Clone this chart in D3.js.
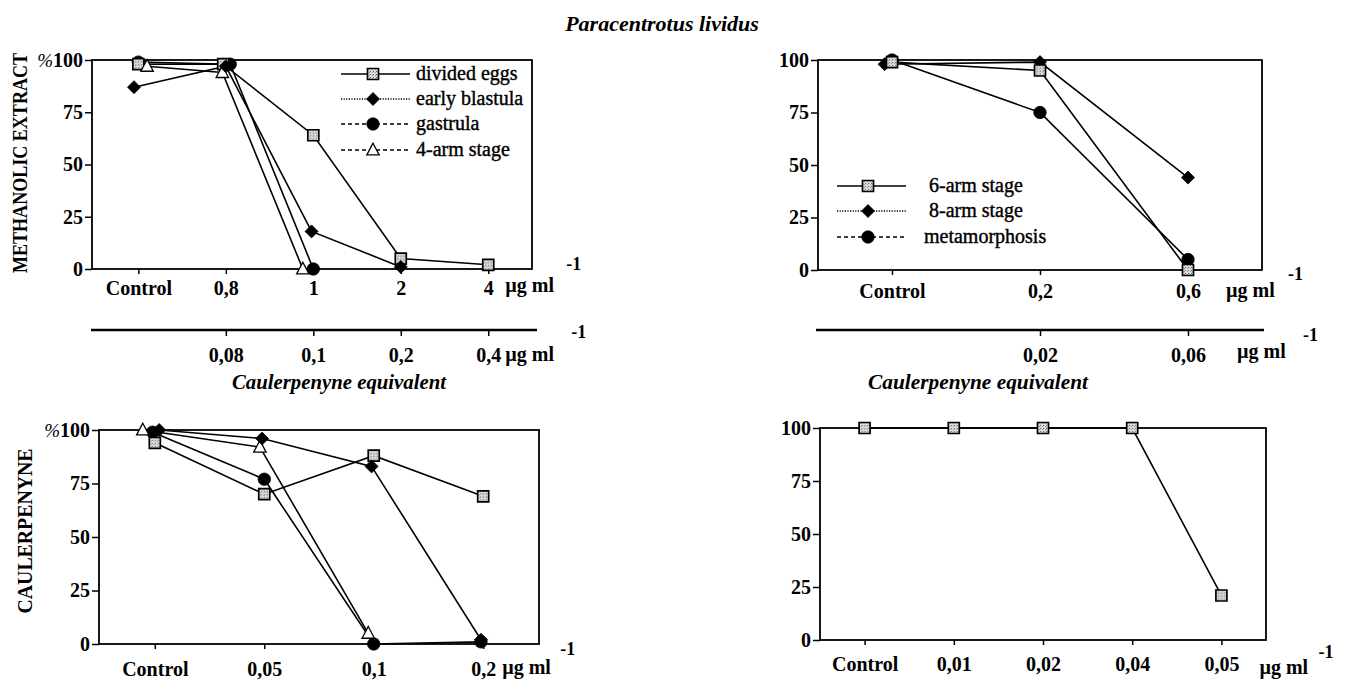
<!DOCTYPE html>
<html>
<head>
<meta charset="utf-8">
<script src="https://cdn.jsdelivr.net/npm/d3@7"></script>
<style>
  body { margin: 0; background: #fff; }
  svg text { font-family: "Liberation Serif", "DejaVu Serif", serif; fill: #000; }
</style>
</head>
<body>
<script>
var width = 1345,
    height = 680;

var serif = '"Liberation Serif", "DejaVu Serif", serif';

var yTickValues = [0, 25, 50, 75, 100];

// top left: methanolic extract, early stages
var aCategories = ['Control', '0,8', '1', '2', '4'];
var aEquivalent = ['0,08', '0,1', '0,2', '0,4'];   // under categories 1..4
var aNames = ['divided eggs', 'early blastula', 'gastrula', '4-arm stage'];
var aDividedEggs = [98, 98, 64, 5, 2];
var aEarlyBlastula = [87, 97, 18, 1];
var aGastrula = [99, 98, 0];
var aFourArm = [97, 94, 0];
// where the points sit along the category axis (the print is a bit shifted)
var aDividedEggsPos = [0, 0.97, 2, 3, 4];
var aEarlyBlastulaPos = [-0.05, 1, 1.98, 3];
var aGastrulaPos = [0, 1.05, 2];
var aFourArmPos = [0.1, 0.96, 1.88];

// top right: methanolic extract, late stages
var bCategories = ['Control', '0,2', '0,6'];
var bEquivalent = ['0,02', '0,06'];
var bNames = ['6-arm stage', '8-arm stage', 'metamorphosis'];
var bSixArm = [99, 95, 0];
var bEightArm = [98, 99, 44];
var bMetamorphosis = [100, 75, 5];
var bEightArmPos = [-0.05, 1, 2];

// bottom left: caulerpenyne, early stages
var cCategories = ['Control', '0,05', '0,1', '0,2'];
var cDividedEggs = [94, 70, 88, 69];
var cEarlyBlastula = [100, 96, 83, 2];
var cGastrula = [99, 77, 0, 1];
var cFourArm = [100, 92, 5];
var cEarlyBlastulaPos = [0.04, 0.98, 1.98, 2.98];
var cGastrulaPos = [-0.02, 1, 2, 2.98];
var cFourArmPos = [-0.11, 0.96, 1.95];

// bottom right: caulerpenyne, late stages
var dCategories = ['Control', '0,01', '0,02', '0,04', '0,05'];
var dSixArm = [100, 100, 100, 100, 21];

var svg = d3.select('body')
  .append('svg')
  .attr('width', width)
  .attr('height', height)
  .attr('font-family', serif);

// grey stippled fill of the square markers
var pat = svg.append('defs').append('pattern')
  .attr('id', 'stipple')
  .attr('width', 3).attr('height', 3)
  .attr('patternUnits', 'userSpaceOnUse');
pat.append('rect').attr('width', 3).attr('height', 3).attr('fill', '#dcdcdc');
pat.append('rect').attr('width', 1).attr('height', 1).attr('fill', '#666');
pat.append('rect').attr('x', 2).attr('y', 1).attr('width', 1).attr('height', 1).attr('fill', '#999');

var markerStyle = {
  square:   { s: 5.5, fill: 'url(#stipple)', sw: 1.7 },
  diamond:  { s: 6.5, fill: '#000', sw: 0.8 },
  circle:   { s: 6.2, fill: '#000', sw: 0.8 },
  triangle: { s: 6.2, fill: '#fff', sw: 1.3 }
};

function markerPath(type, s) {
  if (type === 'square') return 'M' + (-s) + ',' + (-s) + 'h' + 2 * s + 'v' + 2 * s + 'h' + (-2 * s) + 'Z';
  if (type === 'diamond') return 'M0,' + (-s) + 'L' + s + ',0L0,' + s + 'L' + (-s) + ',0Z';
  if (type === 'circle') return 'M' + s + ',0A' + s + ',' + s + ' 0 1,1 ' + (-s) + ',0A' + s + ',' + s + ' 0 1,1 ' + s + ',0Z';
  return 'M0,' + (-s * 1.1) + 'L' + s + ',' + (s * 0.8) + 'L' + (-s) + ',' + (s * 0.8) + 'Z';
}

function drawMarker(sel, type, cx, cy) {
  var st = markerStyle[type];
  sel.append('path')
    .attr('d', markerPath(type, st.s))
    .attr('transform', 'translate(' + cx + ',' + cy + ')')
    .attr('fill', st.fill)
    .attr('stroke', '#000')
    .attr('stroke-width', st.sw);
}

var dashes = { solid: null, dotted: '1.2,1.4', dashed: '4,3' };

function addText(sel, x, y, size, txt) {
  return sel.append('text')
    .attr('x', x).attr('y', y)
    .attr('font-family', serif)
    .attr('font-size', size)
    .attr('font-weight', 'bold')
    .text(txt);
}

function styleAxisText(axis) {
  axis.attr('font-family', serif).attr('font-size', null);
  axis.selectAll('text')
    .attr('font-family', serif)
    .attr('font-size', 20)
    .attr('font-weight', 'bold');
  axis.selectAll('line').attr('stroke-width', 1.5);
}

function drawPanel(p) {
  var x = d3.scaleLinear().domain(p.xDomain).range([p.left, p.right]);
  var y = d3.scaleLinear().domain([0, 100]).range([p.bottom, p.top]);
  var g = svg.append('g');

  // y axis
  var yAxis = g.append('g')
    .attr('transform', 'translate(' + p.left + ',0)')
    .call(d3.axisLeft(y).tickValues(yTickValues).tickSize(7).tickPadding(2));
  yAxis.select('.domain').remove();
  styleAxisText(yAxis);
  if (p.percent) {
    var t = yAxis.selectAll('.tick text').filter(function(d) { return d === 100; });
    t.text(null);
    t.append('tspan').attr('font-size', 19).attr('font-weight', 'normal').attr('font-style', 'italic').text('%');
    t.append('tspan').text('100');
  }

  // x axis, short ticks below the frame
  var xAxis = g.append('g')
    .attr('transform', 'translate(0,' + p.bottom + ')')
    .call(d3.axisBottom(x)
      .tickValues(d3.range(p.categories.length))
      .tickFormat(function(i) { return p.categories[i]; })
      .tickSize(5)
      .tickPadding(p.xPad));
  xAxis.select('.domain').remove();
  styleAxisText(xAxis);

  var last = x(p.categories.length - 1);
  addText(g, last + p.unit[0], p.unit[1], 20, '\u00b5g ml');
  addText(g, last + p.unit[2], p.unit[3], 18, '-1');

  // frame
  g.append('rect')
    .attr('x', p.left).attr('y', p.top)
    .attr('width', p.right - p.left).attr('height', p.bottom - p.top)
    .attr('fill', 'none')
    .attr('stroke', '#000')
    .attr('stroke-width', 1.8);

  // series lines
  var line = d3.line()
    .x(function(d) { return x(d.pos); })
    .y(function(d) { return y(d.v); });

  p.series.forEach(function(s) {
    var pts = s.values.map(function(v, i) {
      return { v: v, pos: s.pos ? s.pos[i] : i };
    });
    s.pts = pts;
    g.append('path')
      .datum(pts)
      .attr('d', line)
      .attr('fill', 'none')
      .attr('stroke', '#000')
      .attr('stroke-width', 1.6);
  });

  // markers on top, in the given order
  p.markerOrder.forEach(function(k) {
    var s = p.series[k];
    s.pts.forEach(function(d) {
      drawMarker(g, s.type, x(d.pos), y(d.v));
    });
  });

  // legend
  if (p.legend) {
    var L = p.legend;
    p.series.forEach(function(s, i) {
      var ry = L.rows[i];
      g.append('line')
        .attr('x1', L.x0).attr('x2', L.x1)
        .attr('y1', ry).attr('y2', ry)
        .attr('stroke', '#000')
        .attr('stroke-width', s.dash === 'solid' ? 1.6 : 1.4)
        .attr('stroke-dasharray', dashes[s.dash]);
      drawMarker(g, s.type, L.xm, ry);
      g.append('text')
        .attr('x', L.textX[i]).attr('y', ry + 6)
        .attr('font-family', serif)
        .attr('font-size', 20)
        .attr('stroke', '#000').attr('stroke-width', 0.4)
        .text(s.name);
    });
  }

  // second scale: caulerpenyne equivalent
  if (p.equiv) {
    var E = p.equiv;
    g.append('line')
      .attr('x1', E.x0).attr('x2', E.x1)
      .attr('y1', E.y).attr('y2', E.y)
      .attr('stroke', '#000')
      .attr('stroke-width', 2.6);
    var eAxis = g.append('g')
      .attr('transform', 'translate(0,' + E.y + ')')
      .call(d3.axisBottom(x)
        .tickValues(d3.range(1, p.categories.length))
        .tickFormat(function(i) { return E.labels[i - 1]; })
        .tickSize(6)
        .tickPadding(12));
    eAxis.select('.domain').remove();
    styleAxisText(eAxis);
    addText(g, last + E.unit[0], E.unit[1], 20, '\u00b5g ml');
    addText(g, last + E.unit[2], E.unit[3], 18, '-1');
    addText(g, E.titleX, E.titleY, 20, 'Caulerpenyne equivalent')
      .attr('text-anchor', 'middle')
      .attr('font-style', 'italic')
      .attr('textLength', E.titleW)
      .attr('lengthAdjust', 'spacingAndGlyphs');
  }
}

// top left
drawPanel({
  left: 92, right: 532, top: 60, bottom: 269,
  xDomain: [-0.53, 4.5], xPad: 7, percent: true,
  categories: aCategories,
  unit: [17, 292, 78, 270],
  series: [
    { name: aNames[0], values: aDividedEggs, pos: aDividedEggsPos, type: 'square', dash: 'solid' },
    { name: aNames[1], values: aEarlyBlastula, pos: aEarlyBlastulaPos, type: 'diamond', dash: 'dotted' },
    { name: aNames[2], values: aGastrula, pos: aGastrulaPos, type: 'circle', dash: 'dashed' },
    { name: aNames[3], values: aFourArm, pos: aFourArmPos, type: 'triangle', dash: 'dashed' }
  ],
  markerOrder: [2, 0, 3, 1],
  legend: { x0: 341, x1: 410, xm: 373, textX: [416, 416, 416, 416], rows: [74, 99, 124, 150] },
  equiv: { labels: aEquivalent, x0: 91, x1: 537, y: 330, unit: [17, 361, 83, 338],
           titleX: 339, titleY: 389, titleW: 214 }
});

// top right
drawPanel({
  left: 818, right: 1262, top: 60, bottom: 270,
  xDomain: [-0.5, 2.5], xPad: 9, percent: false,
  categories: bCategories,
  unit: [38, 297, 100, 280],
  series: [
    { name: bNames[0], values: bSixArm, type: 'square', dash: 'solid' },
    { name: bNames[1], values: bEightArm, pos: bEightArmPos, type: 'diamond', dash: 'dotted' },
    { name: bNames[2], values: bMetamorphosis, type: 'circle', dash: 'dashed' }
  ],
  markerOrder: [2, 1, 0],
  legend: { x0: 837, x1: 906, xm: 868, textX: [929, 929, 924], rows: [186, 211, 237] },
  equiv: { labels: bEquivalent, x0: 816, x1: 1264, y: 330, unit: [49, 358, 115, 341],
           titleX: 978, titleY: 389, titleW: 220 }
});

// bottom left
drawPanel({
  left: 99, right: 539, top: 430, bottom: 644,
  xDomain: [-0.51, 3.51], xPad: 13, percent: true,
  categories: cCategories,
  unit: [19, 674, 77, 655],
  series: [
    { name: aNames[0], values: cDividedEggs, type: 'square', dash: 'solid' },
    { name: aNames[1], values: cEarlyBlastula, pos: cEarlyBlastulaPos, type: 'diamond', dash: 'dotted' },
    { name: aNames[2], values: cGastrula, pos: cGastrulaPos, type: 'circle', dash: 'dashed' },
    { name: aNames[3], values: cFourArm, pos: cFourArmPos, type: 'triangle', dash: 'dashed' }
  ],
  markerOrder: [2, 0, 3, 1]
});

// bottom right
drawPanel({
  left: 820, right: 1266, top: 428, bottom: 640,
  xDomain: [-0.5, 4.5], xPad: 12, percent: false,
  categories: dCategories,
  unit: [38, 674, 97, 658],
  series: [
    { name: bNames[0], values: dSixArm, type: 'square', dash: 'solid' }
  ],
  markerOrder: [0]
});

// titles
addText(svg, 662, 31, 22, 'Paracentrotus lividus')
  .attr('text-anchor', 'middle')
  .attr('font-style', 'italic');

addText(svg, 0, 0, 20, 'METHANOLIC EXTRACT')
  .attr('transform', 'translate(27,163) rotate(-90)')
  .attr('text-anchor', 'middle')
  .attr('textLength', 220)
  .attr('lengthAdjust', 'spacingAndGlyphs');

addText(svg, 0, 0, 20, 'CAULERPENYNE')
  .attr('transform', 'translate(32,531) rotate(-90)')
  .attr('text-anchor', 'middle')
  .attr('textLength', 165)
  .attr('lengthAdjust', 'spacingAndGlyphs');
</script>
</body>
</html>
